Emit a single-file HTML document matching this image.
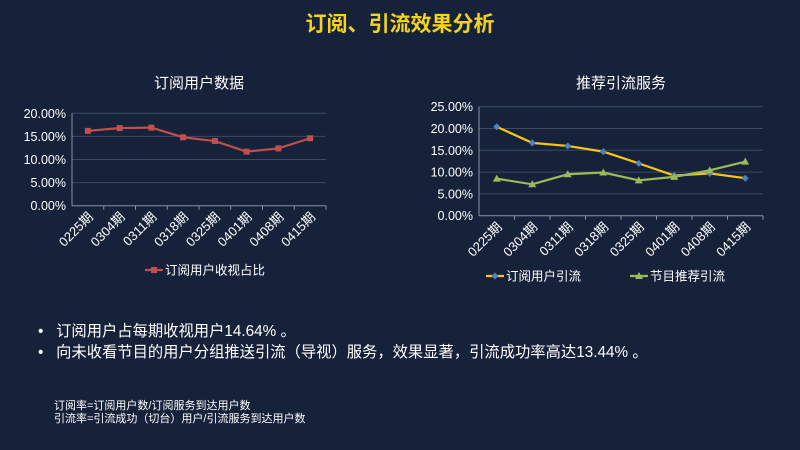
<!DOCTYPE html>
<html><head><meta charset="utf-8">
<style>
body{margin:0;width:800px;height:450px;overflow:hidden;background:#15223a;font-family:"Liberation Sans","Noto Sans CJK SC",sans-serif;}
svg{position:absolute;left:0;top:0}
.t{position:absolute;color:#fff;white-space:nowrap}
</style></head><body>
<div class="t" style="left:0;width:800px;text-align:center;top:8px;font-size:21px;font-weight:bold;color:#f5d31c">订阅、引流效果分析</div>
<div class="t" style="left:38px;top:319px;font-size:15.3px">•&nbsp;&nbsp;&nbsp;订阅用户占每期收视用户14.64% 。</div>
<div class="t" style="left:38px;top:340px;font-size:15.3px">•&nbsp;&nbsp;&nbsp;向未收看节目的用户分组推送引流（导视）服务，效果显著，引流成功率高达13.44% 。</div>
<div class="t" style="left:54px;top:397px;font-size:11px">订阅率=订阅用户数/订阅服务到达用户数</div>
<div class="t" style="left:54px;top:410px;font-size:11px">引流率=引流成功（切台）用户/引流服务到达用户数</div>
<svg id="c" width="800" height="450"></svg>
<script>
const categories=["0225期","0304期","0311期","0318期","0325期","0401期","0408期","0415期"];
const subShare=[16.2,16.8,16.9,14.8,14.0,11.7,12.4,14.6];
const subFlow=[20.4,16.7,16.0,14.7,12.0,9.2,9.7,8.6];
const progFlow=[8.5,7.2,9.5,9.9,8.1,8.9,10.4,12.4];
const leftTicks=[0,5,10,15,20];
const rightTicks=[0,5,10,15,20,25];
const svg=document.getElementById('c');
const NS='http://www.w3.org/2000/svg';
function mk(tag,attrs,parent){const e=document.createElementNS(NS,tag);for(const k in attrs)e.setAttribute(k,attrs[k]);(parent||svg).appendChild(e);return e;}
function chart(cfg){
  const g=mk('g',{});
  
  
  const n=categories.length, step=(cfg.x1-cfg.x0)/n;
  const X=i=>cfg.x0+step*(i+0.5);
  const Y=v=>cfg.yb-(v/cfg.max)*(cfg.yb-cfg.yt);
  const title=mk('text',{x:(cfg.x0+cfg.x1)/2,y:cfg.titleY,'text-anchor':'middle','font-size':15,fill:'#fff'},g);
  title.textContent=cfg.title;
  
  
  cfg.ticks.forEach(t=>{
    const l=mk('line',{x1:cfg.x0,x2:cfg.x1,y1:Y(t),y2:Y(t),stroke:t===0?'#8a93a3':'#3d4a60','stroke-width':1},g);
    
    
    const tx=mk('text',{x:cfg.x0-6,y:Y(t)+4.5,'text-anchor':'end','font-size':12.5,fill:'#fff'},g);
    tx.textContent=t.toFixed(2)+'%';
    
    
  });
  mk('line',{x1:cfg.x0,x2:cfg.x0,y1:cfg.yt,y2:cfg.yb,stroke:'#8a93a3'},g);
  categories.forEach((c,i)=>{
    mk('line',{x1:cfg.x0+step*(i+1),x2:cfg.x0+step*(i+1),y1:cfg.yb,y2:cfg.yb+4,stroke:'#8a93a3'},g);
    const tx=mk('text',{x:X(i)+6,y:cfg.yb+12,'text-anchor':'end','font-size':13,fill:'#fff',transform:`rotate(-45 ${X(i)+6} ${cfg.yb+12})`},g);
    tx.textContent=c;
    
    
  });
  cfg.series.forEach(s=>{
    const p=mk('polyline',{points:s.data.map((v,i)=>X(i)+','+Y(v)).join(' '),fill:'none',stroke:s.color,'stroke-width':2.2},g);
    
    
    s.data.forEach((v,i)=>{
      let m;
      if(s.marker==='sq')m=mk('rect',{x:X(i)-3,y:Y(v)-3,width:6,height:6,fill:s.mcolor},g);
      else if(s.marker==='tri')m=mk('polygon',{points:`${X(i)},${Y(v)-4} ${X(i)-4},${Y(v)+3} ${X(i)+4},${Y(v)+3}`,fill:s.mcolor},g);
      else m=mk('polygon',{points:`${X(i)},${Y(v)-3.5} ${X(i)+3.5},${Y(v)} ${X(i)},${Y(v)+3.5} ${X(i)-3.5},${Y(v)}`,fill:s.mcolor},g);
      
      
    });
    const lx=s.lx, ly=cfg.legendY;
    mk('line',{x1:lx,x2:lx+18,y1:ly,y2:ly,stroke:s.color,'stroke-width':2.2},g);
    if(s.marker==='sq')mk('rect',{x:lx+6,y:ly-3,width:6,height:6,fill:s.mcolor},g);
    else if(s.marker==='tri')mk('polygon',{points:`${lx+9},${ly-4} ${lx+5},${ly+3} ${lx+13},${ly+3}`,fill:s.mcolor},g);
    else mk('polygon',{points:`${lx+9},${ly-3.5} ${lx+12.5},${ly} ${lx+9},${ly+3.5} ${lx+5.5},${ly}`,fill:s.mcolor},g);
    const lt=mk('text',{x:lx+20,y:ly+4.5,'font-size':12.5,fill:'#fff'},g);
    lt.textContent=s.label;
    
    
  });
}
chart({name:'subscription-chart',title:'订阅用户数据',titleY:88,x0:72,x1:326,yt:113.3,yb:205.7,max:20,ticks:leftTicks,legendY:270,
  series:[{name:'sub-share',label:'订阅用户收视占比',data:subShare,color:'#c0504d',mcolor:'#c0504d',marker:'sq',lx:145}]});
chart({name:'traffic-chart',title:'推荐引流服务',titleY:88,x0:479,x1:763,yt:106.7,yb:215.7,max:25,ticks:rightTicks,legendY:276,
  series:[{name:'sub-flow',label:'订阅用户引流',data:subFlow,color:'#f5c518',mcolor:'#4f81bd',marker:'dia',lx:486},
          {name:'prog-flow',label:'节目推荐引流',data:progFlow,color:'#9bbb59',mcolor:'#9bbb59',marker:'tri',lx:630}]});
</script>
</body></html>
